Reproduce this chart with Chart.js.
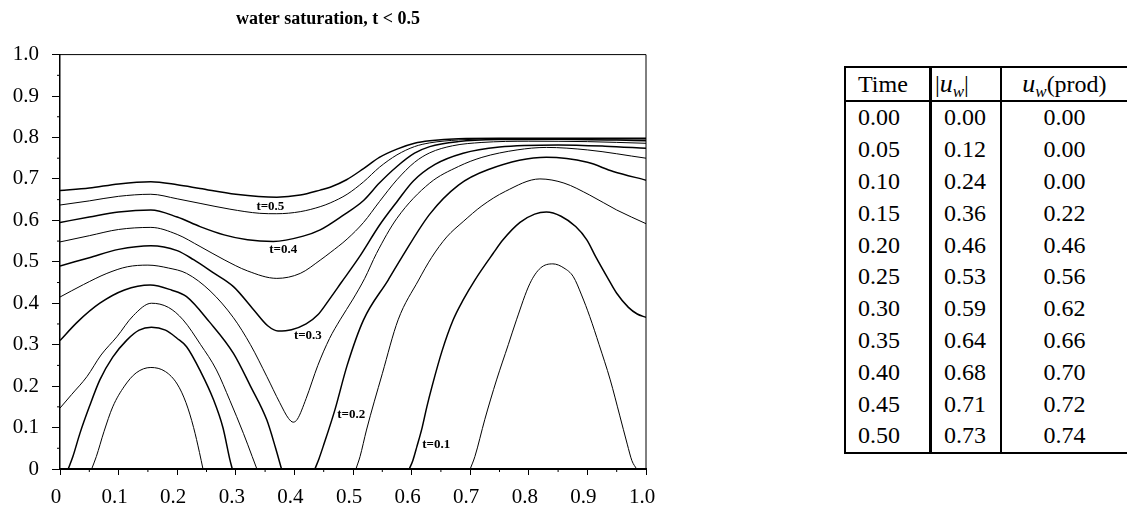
<!DOCTYPE html>
<html>
<head>
<meta charset="utf-8">
<script src="https://cdn.jsdelivr.net/npm/chart.js@4.4.1/dist/chart.umd.min.js"></script>
<style>
  html, body { margin: 0; padding: 0; background: #fff; overflow: hidden; width: 1127px; height: 505px; }
  #wrap { position: absolute; left: 0; top: 0; width: 656px; height: 505px; }
  #tbl {
    position: absolute; left: 844px; top: 66px;
    border-collapse: separate; border-spacing: 0;
    font-family: "Liberation Serif", serif; font-size: 24px; color: #000;
    border-top: 2px solid #000; border-bottom: 2px solid #000;
  }
  #tbl th, #tbl td { padding: 0; font-weight: normal; white-space: nowrap; font-family: "Liberation Serif", serif; }
  #tbl th { height: 32px; border-bottom: 2px solid #000; }
  #tbl td { height: 31.8px; }
  #tbl .c1 { width: 74px; padding-left: 12px; text-align: left; border-left: 2px solid #000; border-right: 3px solid #000; }
  #tbl .c2 { width: 58px; padding-left: 12px; text-align: left; border-right: 2px solid #000; }
  #tbl th.c2 { padding-left: 3px; width: 67px; }
  #tbl .c3 { width: 131px; text-align: center; }
  #tbl th i { font-style: italic; font-size: 26px; }
  #tbl sub { font-size: 17px; vertical-align: -5px; line-height: 0; }
  #tbl sub i { font-size: 17px !important; }
</style>
</head>
<body>
<div id="wrap"><canvas id="chart" width="656" height="505"></canvas></div>
<table id="tbl">
  <thead>
    <tr>
      <th class="c1">Time</th>
      <th class="c2">|<i>u</i><sub><i>w</i></sub>|</th>
      <th class="c3"><i>u</i><sub><i>w</i></sub>(prod)</th>
    </tr>
  </thead>
  <tbody id="tbody"></tbody>
</table>
<script>
// table values
const times = ["0.00", "0.05", "0.10", "0.15", "0.20", "0.25", "0.30", "0.35", "0.40", "0.45", "0.50"];
const uwAbs = ["0.00", "0.12", "0.24", "0.36", "0.46", "0.53", "0.59", "0.64", "0.68", "0.71", "0.73"];
const uwProd = ["0.00", "0.00", "0.00", "0.22", "0.46", "0.56", "0.62", "0.66", "0.70", "0.72", "0.74"];

// axis ticks
const majorTicks = [0, 0.1, 0.2, 0.3, 0.4, 0.5, 0.6, 0.7, 0.8, 0.9, 1.0];
const minorTicks = [0.05, 0.15, 0.25, 0.35, 0.45, 0.55, 0.65, 0.75, 0.85, 0.95];

// saturation fronts, [x, y]
const t005a = [[0.054,0],[0.062,0.03],[0.075,0.09],[0.09,0.15],[0.11,0.2],[0.13,0.232],[0.155,0.245],[0.18,0.235],[0.2,0.205],[0.215,0.16],[0.228,0.1],[0.238,0.04],[0.244,0]];
const t005b = [[0.70,0],[0.708,0.03],[0.725,0.12],[0.745,0.215],[0.765,0.3],[0.779,0.36],[0.802,0.448],[0.82,0.485],[0.841,0.495],[0.86,0.485],[0.876,0.464],[0.89,0.42],[0.904,0.368],[0.92,0.3],[0.939,0.215],[0.955,0.13],[0.968,0.06],[0.976,0.02],[0.984,0]];
const t010a = [[0.014,0],[0.022,0.03],[0.034,0.086],[0.05,0.15],[0.068,0.215],[0.09,0.27],[0.114,0.311],[0.135,0.335],[0.156,0.342],[0.18,0.335],[0.2,0.315],[0.216,0.295],[0.24,0.235],[0.262,0.167],[0.278,0.1],[0.29,0.022],[0.294,0]];
const t010b = [[0.596,0],[0.602,0.02],[0.609,0.054],[0.618,0.1],[0.626,0.15],[0.635,0.2],[0.652,0.285],[0.671,0.36],[0.688,0.408],[0.708,0.456],[0.739,0.52],[0.756,0.553],[0.785,0.595],[0.81,0.615],[0.83,0.62],[0.855,0.61],[0.88,0.585],[0.899,0.553],[0.915,0.51],[0.935,0.46],[0.95,0.424],[0.97,0.39],[0.985,0.374],[1.0,0.366]];
const t015a = [[0,0.147],[0.02,0.18],[0.046,0.223],[0.07,0.275],[0.097,0.319],[0.125,0.37],[0.156,0.40],[0.185,0.39],[0.21,0.36],[0.24,0.3],[0.267,0.239],[0.29,0.165],[0.313,0.086],[0.328,0.03],[0.336,0]];
const t015b = [[0.505,0],[0.512,0.03],[0.523,0.094],[0.55,0.23],[0.577,0.36],[0.612,0.456],[0.634,0.51],[0.66,0.56],[0.688,0.597],[0.72,0.635],[0.76,0.67],[0.819,0.70],[0.86,0.69],[0.904,0.661],[0.95,0.625],[1.0,0.592]];
const t020a = [[0,0.31],[0.03,0.355],[0.068,0.40],[0.11,0.432],[0.154,0.444],[0.19,0.432],[0.216,0.416],[0.255,0.355],[0.296,0.279],[0.325,0.2],[0.353,0.118],[0.368,0.05],[0.378,0]];
const t020b = [[0.435,0],[0.442,0.025],[0.449,0.054],[0.469,0.142],[0.49,0.25],[0.518,0.36],[0.56,0.456],[0.583,0.51],[0.631,0.615],[0.68,0.685],[0.73,0.722],[0.83,0.752],[0.9,0.74],[0.944,0.718],[1.0,0.697]];
const t025 = [[0,0.415],[0.04,0.445],[0.08,0.472],[0.115,0.488],[0.15,0.492],[0.185,0.485],[0.216,0.472],[0.256,0.43],[0.296,0.365],[0.325,0.3],[0.353,0.223],[0.375,0.16],[0.39,0.122],[0.398,0.113],[0.405,0.12],[0.42,0.17],[0.44,0.25],[0.46,0.315],[0.478,0.36],[0.5,0.41],[0.52,0.46],[0.54,0.52],[0.575,0.605],[0.631,0.69],[0.68,0.73],[0.72,0.752],[0.78,0.77],[0.83,0.776],[0.9,0.77],[1.0,0.75]];
const t030 = [[0,0.49],[0.05,0.51],[0.1,0.53],[0.155,0.539],[0.2,0.527],[0.228,0.505],[0.26,0.475],[0.296,0.44],[0.33,0.385],[0.355,0.345],[0.372,0.333],[0.395,0.336],[0.42,0.35],[0.44,0.372],[0.46,0.41],[0.48,0.45],[0.51,0.51],[0.546,0.59],[0.575,0.645],[0.603,0.695],[0.64,0.735],[0.688,0.762],[0.75,0.777],[0.85,0.782],[0.93,0.779],[1.0,0.774]];
const t035 = [[0,0.548],[0.05,0.563],[0.1,0.578],[0.155,0.583],[0.2,0.566],[0.239,0.537],[0.28,0.505],[0.32,0.478],[0.37,0.46],[0.41,0.472],[0.444,0.504],[0.461,0.522],[0.49,0.555],[0.518,0.595],[0.545,0.645],[0.575,0.698],[0.605,0.74],[0.631,0.763],[0.67,0.78],[0.72,0.788],[0.8,0.791],[0.9,0.79],[1.0,0.786]];
const t040 = [[0,0.595],[0.05,0.608],[0.1,0.62],[0.155,0.625],[0.2,0.608],[0.239,0.585],[0.28,0.565],[0.32,0.553],[0.364,0.549],[0.415,0.562],[0.444,0.577],[0.483,0.612],[0.518,0.648],[0.545,0.69],[0.575,0.73],[0.605,0.762],[0.631,0.778],[0.68,0.79],[0.75,0.795],[0.85,0.796],[1.0,0.792]];
const t045 = [[0,0.637],[0.05,0.647],[0.1,0.658],[0.155,0.663],[0.2,0.652],[0.239,0.641],[0.29,0.627],[0.341,0.617],[0.37,0.616],[0.41,0.621],[0.444,0.633],[0.461,0.642],[0.49,0.663],[0.518,0.693],[0.545,0.728],[0.575,0.758],[0.605,0.778],[0.631,0.787],[0.68,0.794],[0.75,0.797],[1.0,0.796]];
const t050 = [[0,0.672],[0.05,0.678],[0.1,0.688],[0.155,0.693],[0.2,0.686],[0.239,0.677],[0.3,0.663],[0.37,0.656],[0.41,0.661],[0.444,0.673],[0.461,0.68],[0.489,0.698],[0.518,0.725],[0.545,0.752],[0.575,0.772],[0.605,0.786],[0.631,0.792],[0.68,0.797],[0.75,0.798],[1.0,0.798]];

// contour labels and where they sit (data coords)
const labelText = ["t=0.5", "t=0.4", "t=0.3", "t=0.2", "t=0.1"];
const labelX = [0.359, 0.381, 0.423, 0.497, 0.642];
const labelY = [0.632, 0.530, 0.321, 0.130, 0.058];

// fill the table
const tbody = document.getElementById("tbody");
times.forEach((t, i) => {
    const tr = document.createElement("tr");
    tr.innerHTML = '<td class="c1">' + t + '</td><td class="c2">' + uwAbs[i] + '</td><td class="c3">' + uwProd[i] + '</td>';
    tbody.appendChild(tr);
});

// labelled fronts get a heavier line
const curves = [
    [t005a, 1], [t005b, 1],
    [t010a, 1.5], [t010b, 1.5],
    [t015a, 1], [t015b, 1],
    [t020a, 1.5], [t020b, 1.5],
    [t025, 1], [t030, 1.5], [t035, 1], [t040, 1.5], [t045, 1], [t050, 1.5]
];

const datasets = curves.map(([pts, w]) => ({
    data: pts.map(p => ({ x: p[0], y: p[1] })),
    showLine: true,
    pointRadius: 0,
    borderColor: "#000",
    borderWidth: w,
    cubicInterpolationMode: "monotone",
    fill: false
}));

// frame, minor ticks and contour labels
const axisExtras = {
    id: "axisExtras",
    afterDraw(chart) {
        const { ctx, chartArea: a, scales: { x, y } } = chart;
        ctx.save();
        ctx.strokeStyle = "#000";
        ctx.lineWidth = 1;
        ctx.beginPath();
        ctx.moveTo(a.left, a.top);
        ctx.lineTo(a.right, a.top);
        ctx.lineTo(a.right, a.bottom);
        minorTicks.forEach(v => {
            const py = y.getPixelForValue(v);
            ctx.moveTo(a.left - 3, py);
            ctx.lineTo(a.left, py);
            const px = x.getPixelForValue(v);
            ctx.moveTo(px, a.bottom);
            ctx.lineTo(px, a.bottom + 3);
        });
        ctx.stroke();

        ctx.fillStyle = "#000";
        ctx.font = "bold 13px 'Liberation Serif'";
        ctx.textAlign = "center";
        ctx.textBaseline = "middle";
        labelText.forEach((txt, i) => {
            ctx.fillText(txt, x.getPixelForValue(labelX[i]), y.getPixelForValue(labelY[i]));
        });
        ctx.restore();
    }
};

const tickLabel = v => (v === 0 ? "0" : v.toFixed(1));

Chart.defaults.font.family = "'Liberation Serif', serif";
Chart.defaults.color = "#000";

new Chart(document.getElementById("chart"), {
    type: "scatter",
    data: { datasets },
    options: {
        responsive: false,
        animation: false,
        devicePixelRatio: 1,
        layout: { padding: 0 },
        plugins: {
            legend: { display: false },
            tooltip: { enabled: false },
            title: {
                display: true,
                text: "water saturation, t < 0.5",
                color: "#000",
                font: { size: 18, weight: "bold" },
                padding: { top: 9, bottom: 24 }
            }
        },
        scales: {
            x: {
                type: "linear",
                min: 0,
                max: 1,
                afterBuildTicks: s => { s.ticks = majorTicks.map(v => ({ value: v })); },
                afterFit: s => { s.height = 36; s.paddingRight = 10; },
                ticks: { callback: tickLabel, autoSkip: false, maxRotation: 0, padding: 10, labelOffset: -4, font: { size: 21 } },
                grid: { display: true, drawOnChartArea: false, drawTicks: true, tickLength: 6, color: "#000", lineWidth: 1 },
                border: { display: true, color: "#000", width: 2 }
            },
            y: {
                type: "linear",
                min: 0,
                max: 1,
                afterBuildTicks: s => { s.ticks = majorTicks.map(v => ({ value: v })); },
                afterFit: s => { s.width = 60; },
                ticks: { callback: tickLabel, autoSkip: false, padding: 13, font: { size: 21 } },
                grid: { display: true, drawOnChartArea: false, drawTicks: true, tickLength: 8, color: "#000", lineWidth: 1 },
                border: { display: true, color: "#000", width: 1.5 }
            }
        }
    },
    plugins: [axisExtras]
});
</script>
</body>
</html>
